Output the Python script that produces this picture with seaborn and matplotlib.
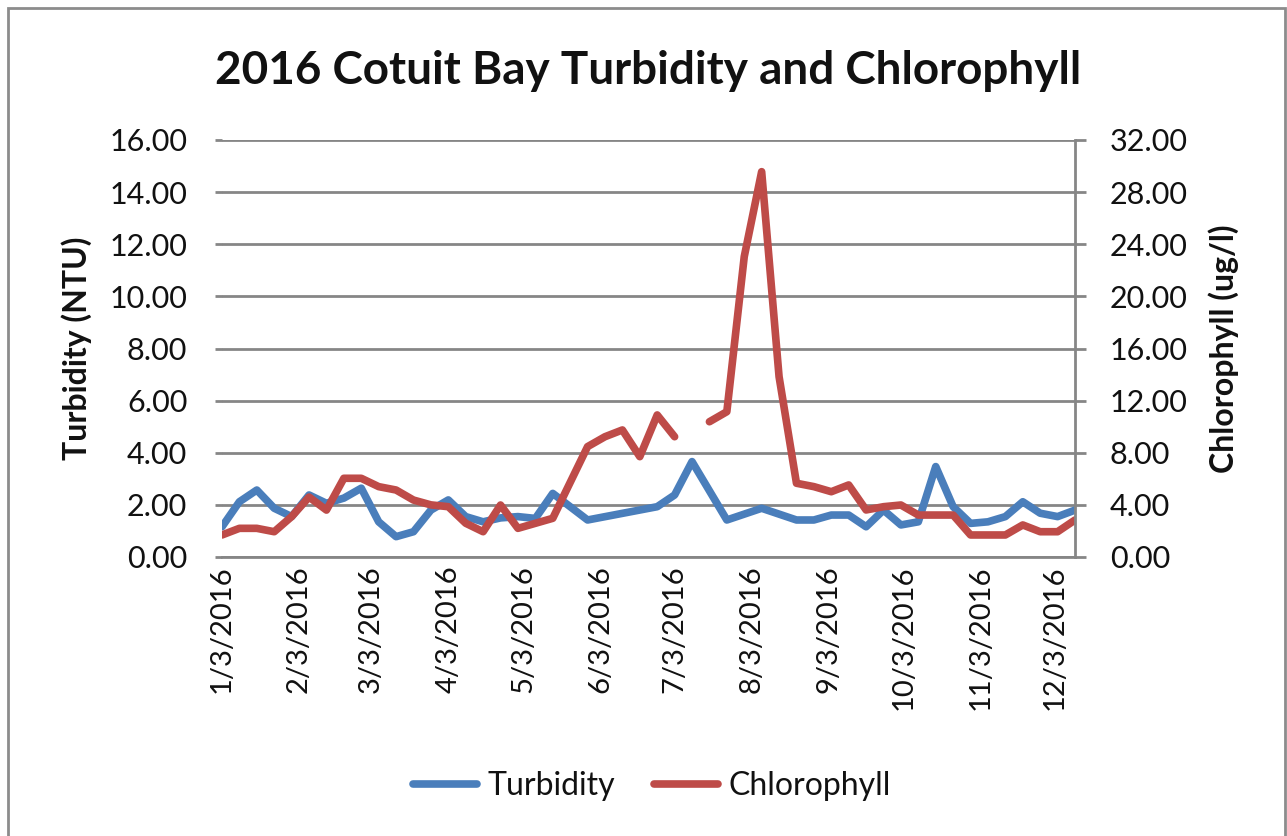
import pandas as pd
import matplotlib.pyplot as plt
import matplotlib.patches as mpatches
from matplotlib.lines import Line2D
import seaborn as sns

# weekly samples
turb_dates = ['2016-01-03', '2016-01-10', '2016-01-17', '2016-01-24', '2016-01-31',
              '2016-02-07', '2016-02-14', '2016-02-21', '2016-02-28', '2016-03-06',
              '2016-03-13', '2016-03-20', '2016-03-27', '2016-04-03', '2016-04-10',
              '2016-04-17', '2016-04-24', '2016-05-01', '2016-05-08', '2016-05-15',
              '2016-05-29', '2016-06-26', '2016-07-03', '2016-07-10', '2016-07-24',
              '2016-08-07', '2016-08-21', '2016-08-28', '2016-09-04', '2016-09-11',
              '2016-09-18', '2016-09-25', '2016-10-02', '2016-10-09', '2016-10-16',
              '2016-10-23', '2016-10-30', '2016-11-06', '2016-11-13', '2016-11-20',
              '2016-11-27', '2016-12-04', '2016-12-11']
turbidity = [1.16, 2.12, 2.57, 1.87, 1.55,
             2.38, 2.06, 2.26, 2.64, 1.35,
             0.78, 0.97, 1.80, 2.19, 1.55,
             1.35, 1.50, 1.55, 1.48, 2.44,
             1.42, 1.93, 2.38, 3.66, 1.42,
             1.87, 1.42, 1.42, 1.61, 1.61,
             1.16, 1.80, 1.23, 1.35, 3.47,
             1.93, 1.29, 1.35, 1.55, 2.12,
             1.68, 1.55, 1.80]

chl_dates = ['2016-01-03', '2016-01-10', '2016-01-17', '2016-01-24', '2016-01-31',
             '2016-02-07', '2016-02-14', '2016-02-21', '2016-02-28', '2016-03-06',
             '2016-03-13', '2016-03-20', '2016-03-27', '2016-04-03', '2016-04-10',
             '2016-04-17', '2016-04-24', '2016-05-01', '2016-05-15', '2016-05-29',
             '2016-06-05', '2016-06-12', '2016-06-19', '2016-06-26', '2016-07-03',
             '2016-07-10', '2016-07-17', '2016-07-24', '2016-07-31', '2016-08-07',
             '2016-08-14', '2016-08-21', '2016-08-28', '2016-09-04', '2016-09-11',
             '2016-09-18', '2016-09-25', '2016-10-02', '2016-10-09', '2016-10-16',
             '2016-10-23', '2016-10-30', '2016-11-06', '2016-11-13', '2016-11-20',
             '2016-11-27', '2016-12-04', '2016-12-11']
chlorophyll = [1.69, 2.20, 2.20, 1.94, 3.10,
               4.60, 3.60, 6.04, 6.04, 5.40,
               5.14, 4.37, 4.00, 3.86, 2.59,
               1.94, 3.99, 2.20, 2.97, 8.47,
               9.23, 9.75, 7.70, 10.90, 9.23,
               None, 10.38, 11.15, 23.05, 29.57,
               13.84, 5.66, 5.40, 5.01, 5.53,
               3.61, 3.86, 3.99, 3.22, 3.22,
               3.22, 1.69, 1.69, 1.69, 2.46,
               1.94, 1.94, 2.84]

tick_dates = ['2016-%02d-03' % m for m in range(1, 13)]

turb_df = pd.DataFrame({'date': pd.to_datetime(turb_dates), 'value': turbidity})
chl_df = pd.DataFrame({'date': pd.to_datetime(chl_dates), 'value': chlorophyll})
# blank cell -> gap in the line: split into segments
chl_df['seg'] = chl_df['value'].isna().cumsum()
chl_df = chl_df.dropna()

sns.set_style("white")
plt.rcParams['font.family'] = ['Lato', 'DejaVu Sans']

blue = '#4A7EBB'
red = '#BE4B48'
grid_grey = '#868686'
txt = '#111111'

fig = plt.figure(figsize=(12.87, 8.36), dpi=100)
ax = fig.add_axes([222 / 1287, 1 - 557 / 836, (1075 - 222) / 1287, (557 - 140) / 836])
ax2 = ax.twinx()

sns.lineplot(data=turb_df, x='date', y='value', ax=ax, color=blue, linewidth=5.5)
sns.lineplot(data=chl_df, x='date', y='value', units='seg', estimator=None,
             ax=ax2, color=red, linewidth=5.5)

ax.set_xlim(pd.Timestamp(turb_dates[0]), pd.Timestamp(turb_dates[-1]))
ax.set_ylim(0, 16)
ax.set_yticks(range(0, 17, 2))
ax.set_yticklabels(['%.2f' % v for v in range(0, 17, 2)], fontsize=22, color=txt)
ax2.set_ylim(0, 32)
ax2.set_yticks(range(0, 33, 4))
ax2.set_yticklabels(['%.2f' % v for v in range(0, 33, 4)], fontsize=22, color=txt)

ticks = pd.to_datetime(tick_dates)
ax.set_xticks(ticks)
ax.set_xticklabels([f'{d.month}/{d.day}/{d.year}' for d in ticks], rotation=90,
                   fontsize=21, color=txt)

ax.yaxis.grid(True, color=grid_grey, linewidth=2)
ax.set_axisbelow(True)
for a in (ax, ax2):
    for s in a.spines.values():
        s.set_visible(False)
ax2.spines['right'].set_visible(True)
ax2.spines['right'].set_color(grid_grey)
ax2.spines['right'].set_linewidth(2)
ax.spines['bottom'].set_visible(True)
ax.spines['bottom'].set_color(grid_grey)
ax.spines['bottom'].set_linewidth(2)

ax.tick_params(axis='y', length=5, width=2, color=grid_grey, pad=20)
ax2.tick_params(axis='y', length=8, width=2, color=grid_grey, pad=17)
ax.tick_params(axis='x', length=0, pad=6)

ax.set_xlabel('')
ax.set_ylabel('Turbidity (NTU)', fontsize=23, fontweight='bold', color=txt)
ax2.set_ylabel('Chlorophyll (ug/l)', fontsize=23, fontweight='bold', color=txt)
ax.yaxis.set_label_coords((92 - 222) / 853, 0.5)
ax2.yaxis.set_label_coords((1208 - 222) / 853, 0.5)

fig.text(0.5 * (220 + 1077) / 1287, 1 - 71 / 836, '2016 Cotuit Bay Turbidity and Chlorophyll',
         ha='center', va='center', fontsize=33, fontweight='bold', color=txt)

handles = [Line2D([], [], color=blue, linewidth=5.5, solid_capstyle='round'),
           Line2D([], [], color=red, linewidth=5.5, solid_capstyle='round')]
fig.legend(handles, ['Turbidity', 'Chlorophyll'], loc='center', ncol=2,
           bbox_to_anchor=(652 / 1287, 1 - 786 / 836), frameon=False, fontsize=23,
           handlelength=2.0, handletextpad=0.35, columnspacing=1.2, labelcolor=txt)

# chart area border
fig.patches.append(mpatches.Rectangle((8 / 1287, -0.05), (1285 - 8) / 1287, 1.05 - 8 / 836,
                                      transform=fig.transFigure, fill=False,
                                      edgecolor='#8C8C8C', linewidth=2))

fig.savefig('out.png', dpi=100)
